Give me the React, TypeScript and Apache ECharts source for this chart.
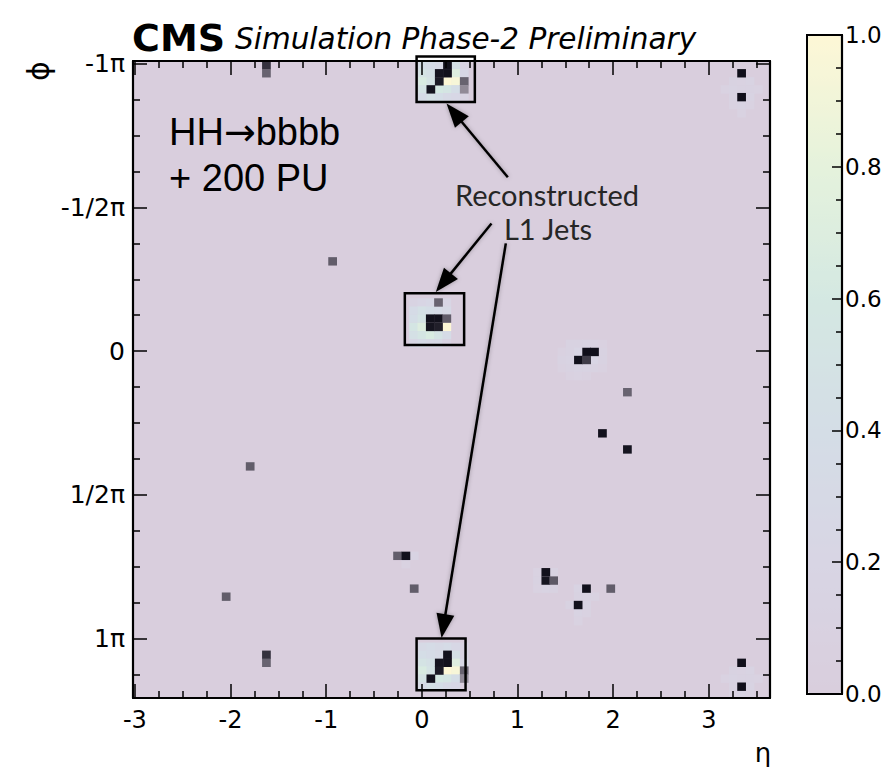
import React, { useEffect, useRef } from 'react';
import * as echarts from 'echarts';

// ---- axes ----
const ETA_RANGE = [-3.02, 3.64];
const PHI_RANGE = [-1.009, 1.206]; // φ in units of π
const PHI_TICK_LABELS: Record<string, string> = {
  '-1': '-1π',
  '-0.5': '-1/2π',
  '0': '0',
  '0.5': '1/2π',
  '1': '1π',
};
const TOWER_DETA = 0.087;
const TOWER_DPHI = 1 / 36;

// ---- colour scale (0 → 1) ----
const COLORBAR_STOPS = ['#d9cedd', '#d8d5e4', '#d4dde6', '#d4e8e2', '#e5f2dc', '#fdf7d6'];
const PLOT_BG = [217, 206, 221];
const DEPOSIT_DARK = [12, 11, 22];

// ---- towers: [η, φ/π, value] ----
const paleTowers: number[][] = [
  // jet at φ ≈ -π
  [0.005, -0.995, 0.4], [0.092, -0.995, 0.35], [0.18, -0.995, 0.3], [0.353, -0.995, 0.45], [0.441, -0.995, 0.15],
  [0.005, -0.967, 0.5], [0.092, -0.967, 0.45], [0.353, -0.967, 0.7], [0.441, -0.967, 0.25],
  [0.005, -0.939, 0.65], [0.092, -0.939, 0.5], [0.266, -0.939, 1.0], [0.353, -0.939, 0.95],
  [0.005, -0.911, 0.5], [0.18, -0.911, 0.6], [0.266, -0.911, 0.55], [0.353, -0.911, 0.4],
  [0.005, -0.884, 0.35], [0.092, -0.884, 0.45], [0.18, -0.884, 0.4], [0.266, -0.884, 0.3], [0.353, -0.884, 0.25], [0.441, -0.884, 0.15],
  // jet at φ ≈ +π (wrapped)
  [0.005, 1.027, 0.3], [0.092, 1.027, 0.35], [0.18, 1.027, 0.3], [0.266, 1.027, 0.35], [0.353, 1.027, 0.25], [0.441, 1.027, 0.15],
  [0.005, 1.055, 0.4], [0.092, 1.055, 0.35], [0.18, 1.055, 0.3], [0.353, 1.055, 0.45], [0.441, 1.055, 0.15],
  [0.005, 1.083, 0.5], [0.092, 1.083, 0.45], [0.353, 1.083, 0.7], [0.441, 1.083, 0.25],
  [0.005, 1.11, 0.65], [0.092, 1.11, 0.5], [0.266, 1.11, 1.0], [0.353, 1.11, 0.95],
  [0.005, 1.138, 0.5], [0.18, 1.138, 0.6], [0.266, 1.138, 0.55], [0.353, 1.138, 0.4],
  [0.005, 1.166, 0.35], [0.092, 1.166, 0.45], [0.18, 1.166, 0.4], [0.266, 1.166, 0.3], [0.353, 1.166, 0.25],
  // jet at φ ≈ -0.1π
  [-0.089, -0.17, 0.15], [-0.002, -0.17, 0.2], [0.086, -0.17, 0.25], [0.259, -0.17, 0.2],
  [-0.089, -0.142, 0.35], [-0.002, -0.142, 0.45], [0.086, -0.142, 0.4], [0.172, -0.142, 0.35], [0.259, -0.142, 0.3],
  [-0.089, -0.114, 0.4], [-0.002, -0.114, 0.5],
  [-0.089, -0.085, 0.55], [-0.002, -0.085, 0.7], [0.259, -0.085, 1.0],
  [-0.089, -0.056, 0.45], [-0.002, -0.056, 0.55], [0.086, -0.056, 0.65], [0.172, -0.056, 0.5], [0.259, -0.056, 0.35],
  [-0.089, -0.028, 0.25], [-0.002, -0.028, 0.35], [0.086, -0.028, 0.3], [0.172, -0.028, 0.3], [0.259, -0.028, 0.15],
  // soft halo near η ≈ 1.7, φ ≈ 0
  [1.549, -0.026, 0.12], [1.635, -0.026, 0.12], [1.721, -0.026, 0.15], [1.803, -0.026, 0.12], [1.889, -0.026, 0.08],
  [1.462, 0.002, 0.08], [1.549, 0.002, 0.12], [1.635, 0.002, 0.2], [1.889, 0.002, 0.12],
  [1.462, 0.03, 0.12], [1.549, 0.03, 0.15], [1.803, 0.03, 0.2], [1.889, 0.03, 0.12],
  [1.462, 0.058, 0.08], [1.549, 0.058, 0.12], [1.635, 0.058, 0.15], [1.721, 0.058, 0.15], [1.803, 0.058, 0.12], [1.889, 0.058, 0.08],
  [1.549, 0.086, 0.08], [1.635, 0.086, 0.1], [1.721, 0.086, 0.08],
  // soft halo at η ≈ 3.3, φ ≈ -0.9π
  [3.254, -0.939, 0.12], [3.341, -0.939, 0.1], [3.428, -0.939, 0.15],
  [3.167, -0.911, 0.1], [3.254, -0.911, 0.15], [3.341, -0.911, 0.12], [3.428, -0.911, 0.12], [3.515, -0.911, 0.1],
  [3.254, -0.884, 0.12], [3.428, -0.884, 0.15],
  [3.254, -0.856, 0.1], [3.341, -0.856, 0.15], [3.428, -0.856, 0.1], [3.341, -0.828, 0.1],
  // soft halo at η ≈ 3.3, φ ≈ 1.1π
  [3.254, 1.11, 0.12], [3.341, 1.11, 0.1], [3.428, 1.11, 0.15],
  [3.167, 1.138, 0.1], [3.254, 1.138, 0.15], [3.341, 1.138, 0.12], [3.428, 1.138, 0.12], [3.515, 1.138, 0.1],
  [3.254, 1.166, 0.12], [3.428, 1.166, 0.15], [3.254, 1.194, 0.1], [3.341, 1.194, 0.15], [3.428, 1.194, 0.1],
  // soft halos lower right
  [1.207, 0.768, 0.1], [1.207, 0.797, 0.12], [1.376, 0.768, 0.12], [1.207, 0.825, 0.1], [1.294, 0.825, 0.15], [1.376, 0.825, 0.12],
  [1.632, 0.825, 0.15], [1.632, 0.853, 0.12], [1.719, 0.853, 0.12], [1.806, 0.853, 0.1],
  [1.545, 0.882, 0.12], [1.719, 0.882, 0.15], [1.632, 0.91, 0.15], [1.719, 0.91, 0.1], [1.632, 0.938, 0.1],
  [-0.082, 0.711, 0.15], [-0.169, 0.74, 0.1],
];

// dark deposits: [η, φ/π, shade] (0 = black, 1 = background)
const darkTowers: number[][] = [
  // jet at φ ≈ -π
  [0.266, -0.995, 0.03], [0.18, -0.967, 0.05], [0.266, -0.967, 0.03], [0.18, -0.939, 0.08], [0.092, -0.911, 0.04],
  [0.441, -0.939, 0.45], [0.441, -0.911, 0.65],
  // jet at φ ≈ +π
  [0.266, 1.055, 0.03], [0.18, 1.083, 0.05], [0.266, 1.083, 0.03], [0.18, 1.11, 0.08], [0.092, 1.138, 0.04],
  [0.441, 1.11, 0.45], [0.441, 1.138, 0.65],
  // jet at φ ≈ -0.1π
  [0.172, -0.17, 0.45], [0.086, -0.114, 0.03], [0.172, -0.114, 0.03], [0.086, -0.085, 0.05], [0.172, -0.085, 0.1],
  [0.259, -0.114, 0.42],
  // cluster near η ≈ 1.7, φ ≈ 0
  [1.721, 0.002, 0.02], [1.803, 0.002, 0.02], [1.635, 0.03, 0.03], [1.721, 0.03, 0.25],
  // isolated deposits
  [2.147, 0.142, 0.45], [1.886, 0.285, 0.03], [2.147, 0.341, 0.05],
  [-0.935, -0.313, 0.42], [-1.797, 0.4, 0.42], [-2.048, 0.853, 0.42],
  [-1.627, -0.995, 0.2], [-1.627, -0.967, 0.45], [-1.627, 1.055, 0.2], [-1.627, 1.083, 0.45],
  [-0.256, 0.711, 0.42], [-0.169, 0.711, 0.03], [-0.082, 0.825, 0.42],
  [1.294, 0.768, 0.03], [1.294, 0.797, 0.05], [1.376, 0.797, 0.4],
  [1.719, 0.825, 0.03], [1.973, 0.825, 0.42], [1.632, 0.882, 0.03],
  [3.341, -0.967, 0.02], [3.341, -0.884, 0.02], [3.341, 1.083, 0.02], [3.341, 1.166, 0.02],
];

// annotation boxes around reconstructed jets: [η0, η1, φ0, φ1]
const jetBoxes: number[][] = [
  [-0.055, 0.554, -1.025, -0.866],
  [-0.178, 0.442, -0.201, -0.0215],
  [-0.055, 0.457, 0.999, 1.179],
];
// arrows: [η start, φ start, η tip, φ tip]
const jetArrows: number[][] = [
  [0.899, -0.605, 0.258, -0.861],
  [0.728, -0.444, 0.146, -0.206],
  [0.878, -0.375, 0.206, 0.997],
];

const shadeColor = (s: number) => {
  const c = DEPOSIT_DARK.map((d, i) => Math.round(d + (PLOT_BG[i] - d) * s));
  return `rgb(${c[0]},${c[1]},${c[2]})`;
};

const cellRenderer = (fillOf: (api: any) => string) => (_params: any, api: any) => {
  const e = api.value(0);
  const p = api.value(1);
  const a = api.coord([e - TOWER_DETA / 2, p - TOWER_DPHI / 2]);
  const b = api.coord([e + TOWER_DETA / 2, p + TOWER_DPHI / 2]);
  return {
    type: 'rect',
    shape: {
      x: Math.min(a[0], b[0]),
      y: Math.min(a[1], b[1]),
      width: Math.abs(b[0] - a[0]) + 0.4,
      height: Math.abs(b[1] - a[1]) + 0.4,
    },
    style: { fill: fillOf(api) },
  };
};

const phiLabel = (v: number) => {
  const r = Math.round(v * 2) / 2;
  if (Math.abs(v - r) > 1e-6) return '';
  return PHI_TICK_LABELS[String(r)] ?? '';
};

const axisLineStyle = { color: '#000', width: 2.2 };
const tickStyle = { color: '#000', width: 1.5 };

const mainX = (position: string, labels: boolean) => ({
  type: 'value',
  gridIndex: 0,
  position,
  min: ETA_RANGE[0],
  max: ETA_RANGE[1],
  z: 10,
  axisLine: { show: true, onZero: false, lineStyle: axisLineStyle },
  axisTick: { show: true, inside: true, length: 14, lineStyle: tickStyle },
  minorTick: { show: true, splitNumber: 4, length: 7, lineStyle: tickStyle },
  axisLabel: {
    show: labels,
    showMinLabel: false,
    showMaxLabel: false,
    color: '#000',
    fontSize: 24,
    fontFamily: 'DejaVu Sans',
    margin: 10,
    formatter: (v: number) => (Math.abs(v - Math.round(v)) < 1e-6 ? String(Math.round(v)) : ''),
  },
  splitLine: { show: false },
  minorSplitLine: { show: false },
});

const mainY = (position: string, labels: boolean) => ({
  type: 'value',
  gridIndex: 0,
  position,
  inverse: true,
  min: PHI_RANGE[0],
  max: PHI_RANGE[1],
  z: 10,
  axisLine: { show: true, onZero: false, lineStyle: axisLineStyle },
  axisTick: { show: true, inside: true, length: 14, lineStyle: tickStyle },
  minorTick: { show: true, splitNumber: 4, length: 7, lineStyle: tickStyle },
  axisLabel: {
    show: labels,
    showMinLabel: false,
    showMaxLabel: false,
    color: '#000',
    fontSize: 25,
    fontFamily: 'DejaVu Sans',
    margin: 8,
    formatter: phiLabel,
  },
  splitLine: { show: false },
  minorSplitLine: { show: false },
});

export default function App() {
  const ref = useRef<HTMLDivElement>(null);

  useEffect(() => {
    if (!ref.current) return;
    const chart = echarts.init(ref.current, undefined, { renderer: 'svg' });

    const option: any = {
      animation: false,
      textStyle: { fontFamily: 'DejaVu Sans' },
      grid: [
        { left: 133, top: 61, width: 637, height: 637, show: true, backgroundColor: '#d9cedd', borderWidth: 0 },
        { left: 807, top: 35, width: 35, height: 659, show: true, backgroundColor: 'transparent', borderColor: '#000', borderWidth: 2 },
      ],
      xAxis: [
        mainX('bottom', true),
        mainX('top', false),
        { type: 'value', gridIndex: 1, min: 0, max: 1, show: false },
      ],
      yAxis: [
        mainY('left', true),
        mainY('right', false),
        {
          type: 'value',
          gridIndex: 1,
          position: 'right',
          min: 0,
          max: 1,
          interval: 0.2,
          z: 10,
          axisLine: { show: true, onZero: false, lineStyle: axisLineStyle },
          axisTick: { show: true, inside: true, length: 10, lineStyle: tickStyle },
          minorTick: { show: true, splitNumber: 4, length: 6, lineStyle: tickStyle },
          axisLabel: { color: '#000', fontSize: 23, fontFamily: 'DejaVu Sans', margin: 3, formatter: (v: number) => v.toFixed(1) },
          splitLine: { show: false },
        },
      ],
      visualMap: {
        type: 'continuous',
        min: 0,
        max: 1,
        dimension: 2,
        seriesIndex: 0,
        show: true,
        calculable: false,
        hoverLink: false,
        orient: 'vertical',
        left: 808,
        top: 36,
        itemWidth: 33,
        itemHeight: 657,
        padding: 0,
        inRange: { color: COLORBAR_STOPS },
      },
      series: [
        {
          type: 'custom',
          name: 'tower energy',
          xAxisIndex: 0,
          yAxisIndex: 0,
          data: paleTowers,
          encode: { x: 0, y: 1 },
          clip: true,
          silent: true,
          renderItem: cellRenderer((api) => api.visual('color')),
        },
        {
          type: 'custom',
          name: 'tower deposits',
          xAxisIndex: 0,
          yAxisIndex: 0,
          data: darkTowers,
          encode: { x: 0, y: 1 },
          clip: true,
          silent: true,
          renderItem: cellRenderer((api) => shadeColor(api.value(2))),
        },
      ],
    };
    chart.setOption(option);

    const P = (x: number, y: number) => chart.convertToPixel({ xAxisIndex: 0, yAxisIndex: 0 } as any, [x, y]) as number[];
    const shadow = { shadowBlur: 4, shadowColor: 'rgba(0,0,0,0.3)' };
    const graphics: any[] = [];

    jetBoxes.forEach(([e0, e1, p0, p1]) => {
      const a = P(e0, p0);
      const b = P(e1, p1);
      graphics.push({
        type: 'rect',
        z: 100,
        silent: true,
        shape: { x: Math.min(a[0], b[0]), y: Math.min(a[1], b[1]), width: Math.abs(b[0] - a[0]), height: Math.abs(b[1] - a[1]) },
        style: { fill: 'none', stroke: '#000', lineWidth: 2.5 },
      });
    });

    jetArrows.forEach(([es, ps, et, pt]) => {
      const s = P(es, ps);
      const t = P(et, pt);
      const dx = t[0] - s[0];
      const dy = t[1] - s[1];
      const len = Math.hypot(dx, dy);
      const ux = dx / len;
      const uy = dy / len;
      const L = 24;
      const W = 9;
      const bx = t[0] - ux * L;
      const by = t[1] - uy * L;
      graphics.push({
        type: 'line',
        z: 100,
        silent: true,
        shape: { x1: s[0], y1: s[1], x2: bx + ux * 2, y2: by + uy * 2 },
        style: { stroke: '#000', lineWidth: 2.5, ...shadow },
      });
      graphics.push({
        type: 'polygon',
        z: 100,
        silent: true,
        shape: { points: [[t[0], t[1]], [bx - uy * W, by + ux * W], [bx + uy * W, by - ux * W]] },
        style: { fill: '#000', ...shadow },
      });
    });

    const txt = (text: string, x: number, y: number, extra: any, align = 'left', rotation = 0) => ({
      type: 'text',
      z: 100,
      silent: true,
      x,
      y,
      rotation,
      style: {
        text,
        fill: '#000',
        align,
        textAlign: align,
        verticalAlign: 'middle',
        textVerticalAlign: 'middle',
        ...extra,
      },
    });

    graphics.push(txt('CMS', 132, 37.5, { fontSize: 38, fontWeight: 'bold', fontFamily: 'DejaVu Sans' }));
    graphics.push(txt('Simulation Phase-2 Preliminary', 235, 39, { fontSize: 29.5, fontStyle: 'italic', fontFamily: 'DejaVu Sans' }));
    graphics.push(
      txt('{a|HH}{b|→}{a|bbbb}', 169, 131.5, {
        rich: {
          a: { fontSize: 38, fontFamily: 'Liberation Sans', fill: '#000' },
          b: { fontSize: 38, fontFamily: 'DejaVu Sans', fill: '#000' },
        },
      })
    );
    graphics.push(txt('+ 200 PU', 169, 177.5, { fontSize: 38, fontFamily: 'Liberation Sans' }));
    graphics.push(txt('Reconstructed', 547, 194, { fontSize: 29, fontFamily: 'Lato', fill: '#262626' }, 'center'));
    graphics.push(txt('L1 Jets', 548, 228, { fontSize: 29, fontFamily: 'Lato', fill: '#262626' }, 'center'));
    graphics.push(txt('ϕ', 38, 71, { fontSize: 30, fontFamily: 'DejaVu Sans' }, 'center', Math.PI / 2));
    graphics.push(txt('η', 763, 753, { fontSize: 26, fontFamily: 'DejaVu Sans' }, 'center'));

    chart.setOption({ graphic: graphics });

    return () => chart.dispose();
  }, []);

  return <div ref={ref} style={{ position: 'absolute', left: 0, top: 0, width: 892, height: 767 }} />;
}
